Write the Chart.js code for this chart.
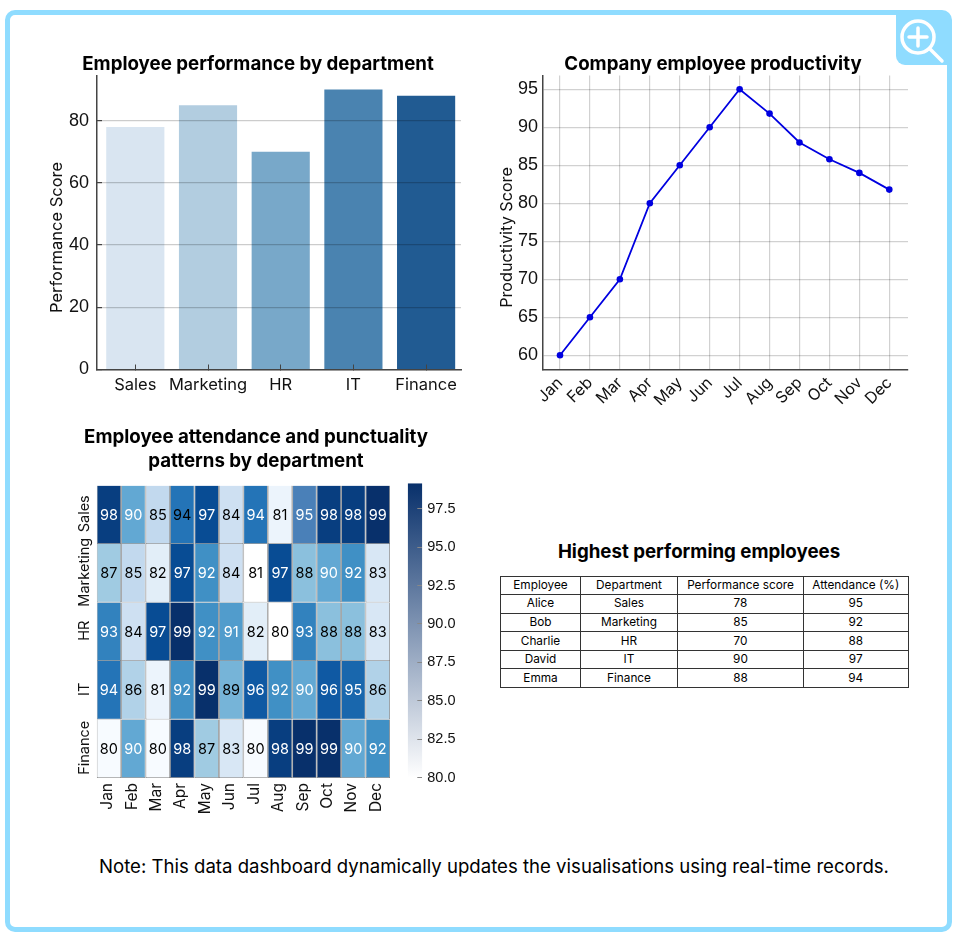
<!DOCTYPE html>
<html>
<head>
<meta charset="utf-8">
<script src="https://cdn.jsdelivr.net/npm/chart.js@4"></script>
<style>
html,body{margin:0;padding:0;background:#fff;width:958px;height:939px;overflow:hidden;font-family:Inter,sans-serif;color:#000}
#frame{position:absolute;left:5px;top:10px;width:937px;height:912px;border:5px solid #8fdcff;border-radius:10px}
#zoom{position:absolute;left:896px;top:14px;width:52px;height:51px;background:#8fdcff;border-bottom-left-radius:9px}
canvas{position:absolute}
#tableTitle{position:absolute;left:500px;width:398px;top:541px;text-align:center;font-weight:700;font-size:18.7px;line-height:22px;white-space:nowrap}
table{position:absolute;left:500px;top:575.5px;width:407.5px;border-collapse:collapse;table-layout:fixed;font-size:11.8px}
td{border:1px solid #333;height:17.6px;padding:0;text-align:center;line-height:17px}
#note{position:absolute;left:0;width:988px;top:855px;text-align:center;font-size:18.6px;line-height:22px;white-space:nowrap}
</style>
</head>
<body>
<div id="frame"></div>
<div id="zoom"><svg width="52" height="51" viewBox="0 0 52 51"><circle cx="22" cy="23" r="16" fill="none" stroke="#fff" stroke-width="3.5"/><path d="M22 14v18M13 23h18M34 35l12 12" stroke="#fff" stroke-width="3.5" stroke-linecap="round"/></svg></div>

<canvas id="bar" width="426" height="353" style="left:45px;top:52px"></canvas>
<canvas id="line" width="436" height="353" style="left:495px;top:52px"></canvas>
<canvas id="heat" width="392" height="402" style="left:60px;top:426px"></canvas>
<canvas id="cbar" width="60" height="320" style="left:400px;top:470px"></canvas>

<div id="tableTitle">Highest performing employees</div>
<table id="tbl"><colgroup><col style="width:80px"><col style="width:97px"><col style="width:126px"><col style="width:104.5px"></colgroup><tbody></tbody></table>
<div id="note">Note: This data dashboard dynamically updates the visualisations using real-time records.</div>

<script>
const departments = ['Sales','Marketing','HR','IT','Finance'];
const performanceScores = [78,85,70,90,88];
const barColors = ['#d9e5f1','#b2cde0','#78a8c9','#4a83b0','#215b92'];
const months = ['Jan','Feb','Mar','Apr','May','Jun','Jul','Aug','Sep','Oct','Nov','Dec'];
const productivity = [60,65,70,80,85,90,95,91.8,88,85.8,84,81.8];
const attendanceSales = [98,90,85,94,97,84,94,81,95,98,98,99];
const attendanceMarketing = [87,85,82,97,92,84,81,97,88,90,92,83];
const attendanceHR = [93,84,97,99,92,91,82,80,93,88,88,83];
const attendanceIT = [94,86,81,92,99,89,96,92,90,96,95,86];
const attendanceFinance = [80,90,80,98,87,83,80,98,99,99,90,92];
const colorbarTicksFrom = 80, colorbarTicksTo = 99.15, colorbarStep = 2.5;
const employees = ['Alice','Bob','Charlie','David','Emma'];
const employeeAttendance = [95,92,88,97,94];
const tableHead = ['Employee','Department','Performance score','Attendance (%)'];

const UI = 'Inter, sans-serif', NUM = '"Liberation Sans", Arial, sans-serif';
Chart.defaults.font.family = UI;
Chart.defaults.color = '#111';
Chart.defaults.animation = false;
const titleOpts = (text, lh, top, bottom) => ({display:true,text,color:'#000',font:{family:UI,size:18.7,weight:'700',lineHeight:lh},padding:{top,bottom}});
const fixW = w => s => { s.width = w; s.paddingTop = s.paddingBottom = 0; };
const fixH = h => s => { s.height = h; s.paddingLeft = s.paddingRight = 0; };
const centerTitle = {id:'centerTitle',beforeDraw(chart){
  if(chart.titleBlock){ chart.titleBlock.left = 0; chart.titleBlock.right = chart.width; }
}};
const shiftAxisTitle = dy => ({id:'shiftAxisTitle',beforeDraw(chart){
  const s = chart.scales.y;
  if(s.__shifted) return; s.__shifted = true;
  const orig = s.drawTitle;
  s.drawTitle = function(){ const c=this.ctx; c.save(); c.translate(0,dy); orig.call(this); c.restore(); };
}});

new Chart('bar',{type:'bar',
  data:{datasets:[{data:performanceScores.map((v,i)=>({x:i,y:v})),backgroundColor:barColors,barPercentage:0.8,categoryPercentage:1}]},
  plugins:[centerTitle,shiftAxisTitle(15)],
  options:{responsive:false,layout:{padding:{right:10}},
    plugins:{legend:{display:false},tooltip:{enabled:false},title:titleOpts('Employee performance by department',1.2,1,0)},
    scales:{
      x:{type:'linear',offset:false,min:-0.527,max:4.48,afterFit:fixH(35.5),border:{color:'#444',width:1.5,z:2},
        grid:{offset:false,drawOnChartArea:false,tickLength:-5,tickColor:'#444',z:2},
        ticks:{stepSize:1,includeBounds:false,font:{size:16.5},color:'#111',padding:11,maxRotation:0,autoSkip:false,callback:v=>departments[v]}},
      y:{min:0,max:94.55,afterFit:fixW(52),border:{color:'#444',width:1.5,z:2},
        grid:{color:'rgba(0,0,0,0.2)',lineWidth:1.2,tickLength:-5,tickColor:'#444',z:1},
        ticks:{stepSize:20,includeBounds:false,font:{family:NUM,size:18},color:'#111',padding:13},
        title:{display:true,text:'Performance Score',font:{size:16.5},color:'#111',padding:{top:2,bottom:0}}}
    }}});

new Chart('line',{type:'line',
  data:{datasets:[{data:productivity.map((v,i)=>({x:i,y:v})),borderColor:'#0000e0',backgroundColor:'#0000e0',borderWidth:1.8,pointRadius:3.3,pointBorderWidth:0,tension:0}]},
  plugins:[centerTitle,shiftAxisTitle(15)],
  options:{responsive:false,layout:{padding:{right:23}},
    plugins:{legend:{display:false},tooltip:{enabled:false},title:titleOpts('Company employee productivity',1.2,1,0)},
    scales:{
      x:{type:'linear',min:-0.568,max:11.625,afterFit:fixH(35.5),border:{color:'#444',width:1.5},
        grid:{color:'rgba(0,0,0,0.18)',lineWidth:1.2,drawTicks:false},
        ticks:{stepSize:1,includeBounds:false,autoSkip:false,minRotation:45,maxRotation:45,padding:4,font:{size:16},color:'#111',callback:v=>months[v]}},
      y:{min:58.13,max:96.82,afterFit:fixW(48),border:{color:'#444',width:1.5},
        grid:{color:'rgba(0,0,0,0.18)',lineWidth:1.2,drawTicks:false},
        ticks:{stepSize:5,includeBounds:false,font:{family:NUM,size:18},color:'#111',padding:5},
        title:{display:true,text:'Productivity Score',font:{size:16.2},color:'#111',padding:{top:2,bottom:0}}}
    }}});

const heatRows = [attendanceSales,attendanceMarketing,attendanceHR,attendanceIT,attendanceFinance];
const cellColorOverrides = {'0,8':'#4a80b8','1,6':'#ffffff','2,7':'#ffffff'};
const blues = [[247,251,255],[222,235,247],[198,219,239],[158,202,225],[107,174,214],[66,146,198],[33,113,181],[8,81,156],[8,48,107]];
function blue(v){
  const t = Math.max(0,Math.min(1,(v-80)/19))*8, i = Math.min(7,Math.floor(t)), f = t-i;
  const c = blues[i].map((a,k)=>Math.round(a+(blues[i+1][k]-a)*f));
  return `rgb(${c[0]},${c[1]},${c[2]})`;
}
const heatLabels = {id:'heatLabels',afterDatasetsDraw(chart){
  const c = chart.ctx; c.save();
  c.font = '14.5px '+UI; c.textAlign='center'; c.textBaseline='middle';
  heatRows.forEach((row,r)=>{
    chart.getDatasetMeta(r).data.forEach((el,m)=>{
      const v = row[m];
      c.fillStyle = (v>=90 && !(r===0&&m===3)) ? '#fff' : '#000';
      c.fillText(String(v), el.x, (el.y+el.base)/2+0.5);
    });
  });
  c.restore();
}};
const alignHeatLabels = {id:'alignHeatLabels',beforeDraw(chart){
  if(chart.__aligned) return; chart.__aligned = true;
  chart.scales.y.getLabelItems().forEach(it=>{
    it.options.textAlign='center'; it.options.textBaseline='middle'; it.options.translation[0]=24.4; it.options.translation[1]-=1;
  });
  chart.scales.x.getLabelItems().forEach(it=>{ it.options.translation[0]-=1.5; });
}};
new Chart('heat',{type:'bar',
  data:{labels:months,datasets:heatRows.map((row,r)=>({
    data:row.map(()=>[r,r+1]),
    backgroundColor:row.map((v,m)=>cellColorOverrides[r+','+m]||blue(v)),
    borderColor:'#808080',borderWidth:0.8,inflateAmount:0,grouped:false,barPercentage:1,categoryPercentage:1}))},
  plugins:[heatLabels,alignHeatLabels,centerTitle],
  options:{responsive:false,layout:{padding:{right:62}},
    plugins:{legend:{display:false},tooltip:{enabled:false},
      title:titleOpts(['Employee attendance and punctuality','patterns by department'],1.26,0,12.4)},
    scales:{
      x:{afterFit:fixH(50),grid:{display:false,drawTicks:false},border:{display:false},
        ticks:{minRotation:90,maxRotation:90,autoSkip:false,padding:5,font:{size:15.5},color:'#111'}},
      y:{min:0,max:5,reverse:true,afterFit:fixW(36.7),grid:{display:false,drawTicks:false},border:{display:false},
        afterBuildTicks:s=>{s.ticks=departments.map((d,i)=>({value:i+0.5}));},
        ticks:{minRotation:90,autoSkip:false,font:{size:14.5},color:'#111',callback:v=>departments[v-0.5]}}
    }}});

new Chart('cbar',{type:'bar',
  data:{labels:['attendance'],datasets:[{data:[[colorbarTicksFrom,colorbarTicksTo]],barPercentage:1,categoryPercentage:1,inflateAmount:0,
    backgroundColor:ctx=>{
      const a = ctx.chart.chartArea; if(!a) return '#08306b';
      const g = ctx.chart.ctx.createLinearGradient(0,a.bottom,0,a.top);
      g.addColorStop(0,'#ffffff'); g.addColorStop(1,'#08306b'); return g;
    }}]},
  options:{responsive:false,layout:{padding:{left:7.7,right:2.7,top:13.3,bottom:12.3}},
    plugins:{legend:{display:false},tooltip:{enabled:false}},
    scales:{
      x:{display:false},
      y:{position:'right',min:colorbarTicksFrom,max:colorbarTicksTo,afterFit:fixW(35),border:{display:false},
        grid:{drawOnChartArea:false,tickLength:-5,tickColor:'#888',z:2},
        ticks:{stepSize:colorbarStep,includeBounds:false,padding:10,font:{family:NUM,size:14.5},color:'#111',callback:v=>v.toFixed(1)}}
    }}});

const tb = document.querySelector('#tbl tbody');
const rows = [tableHead].concat(employees.map((e,i)=>[e,departments[i],performanceScores[i],employeeAttendance[i]]));
rows.forEach(r=>{const tr=document.createElement('tr');r.forEach(x=>{const td=document.createElement('td');td.textContent=x;tr.appendChild(td);});tb.appendChild(tr);});
</script>
</body>
</html>
